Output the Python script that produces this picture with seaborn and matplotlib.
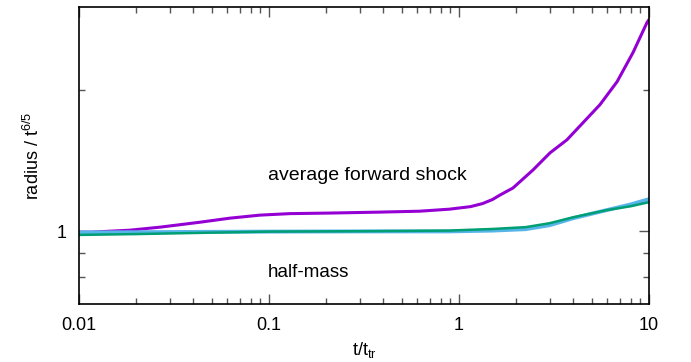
import numpy as np
import pandas as pd
import matplotlib
matplotlib.use("Agg")
import matplotlib.pyplot as plt
import seaborn as sns
from matplotlib.ticker import LogLocator, FixedLocator, NullFormatter, FixedFormatter

# data
shock_t = [0.01, 0.0114, 0.0185, 0.0267, 0.0433, 0.0622, 0.0896, 0.129, 0.209, 0.38, 0.62, 0.89,
           1.15, 1.33, 1.5, 1.644, 1.924, 2.452, 3.013, 3.70, 4.49, 5.52, 6.79, 8.24, 9.76, 10.0]
shock_r = [0.995, 0.995, 1.005, 1.02, 1.045, 1.066, 1.082, 1.09, 1.093, 1.098, 1.103, 1.114,
           1.128, 1.145, 1.168, 1.194, 1.236, 1.350, 1.468, 1.565, 1.701, 1.859, 2.08, 2.40, 2.78, 2.82]

half_t = [0.01, 0.02, 0.05, 0.1, 0.3, 0.89, 1.0, 1.5, 2.24, 3.0, 4.0, 6.0, 8.0, 10.0]
half_green = [0.982, 0.986, 0.993, 0.998, 1.0, 1.003, 1.005, 1.011, 1.02, 1.04, 1.071, 1.109, 1.13, 1.153]
half_cyan = [0.994, 0.995, 0.997, 0.998, 0.999, 0.999, 1.0, 1.003, 1.01, 1.03, 1.066, 1.109, 1.14, 1.170]

sns.set_theme(style="ticks")
plt.rcParams['font.family'] = ['Liberation Sans', 'DejaVu Sans']
plt.rcParams['mathtext.fontset'] = 'custom'
plt.rcParams['mathtext.rm'] = 'Liberation Sans'
plt.rcParams['mathtext.it'] = 'Liberation Sans'
plt.rcParams['text.color'] = 'black'
plt.rcParams['axes.labelcolor'] = 'black'
plt.rcParams['xtick.labelcolor'] = 'black'
plt.rcParams['ytick.labelcolor'] = 'black'

fig = plt.figure(figsize=(6.91, 3.62), dpi=100)
ax = fig.add_axes([79/691, 1-304/362, (649-79)/691, (304-7)/362])

df_s = pd.DataFrame({"t": shock_t, "r": shock_r})
df_g = pd.DataFrame({"t": half_t, "r": half_green})
df_c = pd.DataFrame({"t": half_t, "r": half_cyan})

sns.lineplot(data=df_s, x="t", y="r", ax=ax, color="#9400d3", lw=2.2)
sns.lineplot(data=df_c, x="t", y="r", ax=ax, color="#56b4e9", lw=2.8)
sns.lineplot(data=df_g, x="t", y="r", ax=ax, color="#009e73", lw=1.8)

ax.set_xscale("log")
ax.set_yscale("log")
ax.set_xlim(0.01, 10)
ax.set_ylim(0.7, 3.0)

ax.xaxis.set_major_locator(FixedLocator([0.01, 0.1, 1, 10]))
ax.xaxis.set_major_formatter(FixedFormatter(["0.01", "0.1", "1", "10"]))
ax.xaxis.set_minor_locator(LogLocator(base=10, subs=np.arange(2, 10)))
ax.xaxis.set_minor_formatter(NullFormatter())
ax.yaxis.set_major_locator(FixedLocator([1]))
ax.yaxis.set_major_formatter(FixedFormatter(["1"]))
ax.yaxis.set_minor_locator(FixedLocator([0.8, 0.9, 2]))
ax.yaxis.set_minor_formatter(NullFormatter())

ax.tick_params(which="both", direction="in", top=True, right=True, labelsize=13,
               color="#555555", labelcolor="black")
ax.tick_params(which="major", length=7, width=1, pad=9)
ax.tick_params(which="minor", length=4, width=1)
for sp in ax.spines.values():
    sp.set_linewidth(1.2)
    sp.set_color("black")

ax.set_xlabel(r"t/t$_{\rm tr}$", fontsize=13, labelpad=5, color="black")
ax.set_ylabel(r"radius / t$^{6/5}$", fontsize=13, labelpad=10, color="black")

ax.text(0.099, 1.317, "average forward shock", fontsize=14, va="center", ha="left", color="black")
ax.text(0.099, 0.817, "half-mass", fontsize=13.5, va="center", ha="left", color="black")

fig.savefig("out.png", dpi=100)
